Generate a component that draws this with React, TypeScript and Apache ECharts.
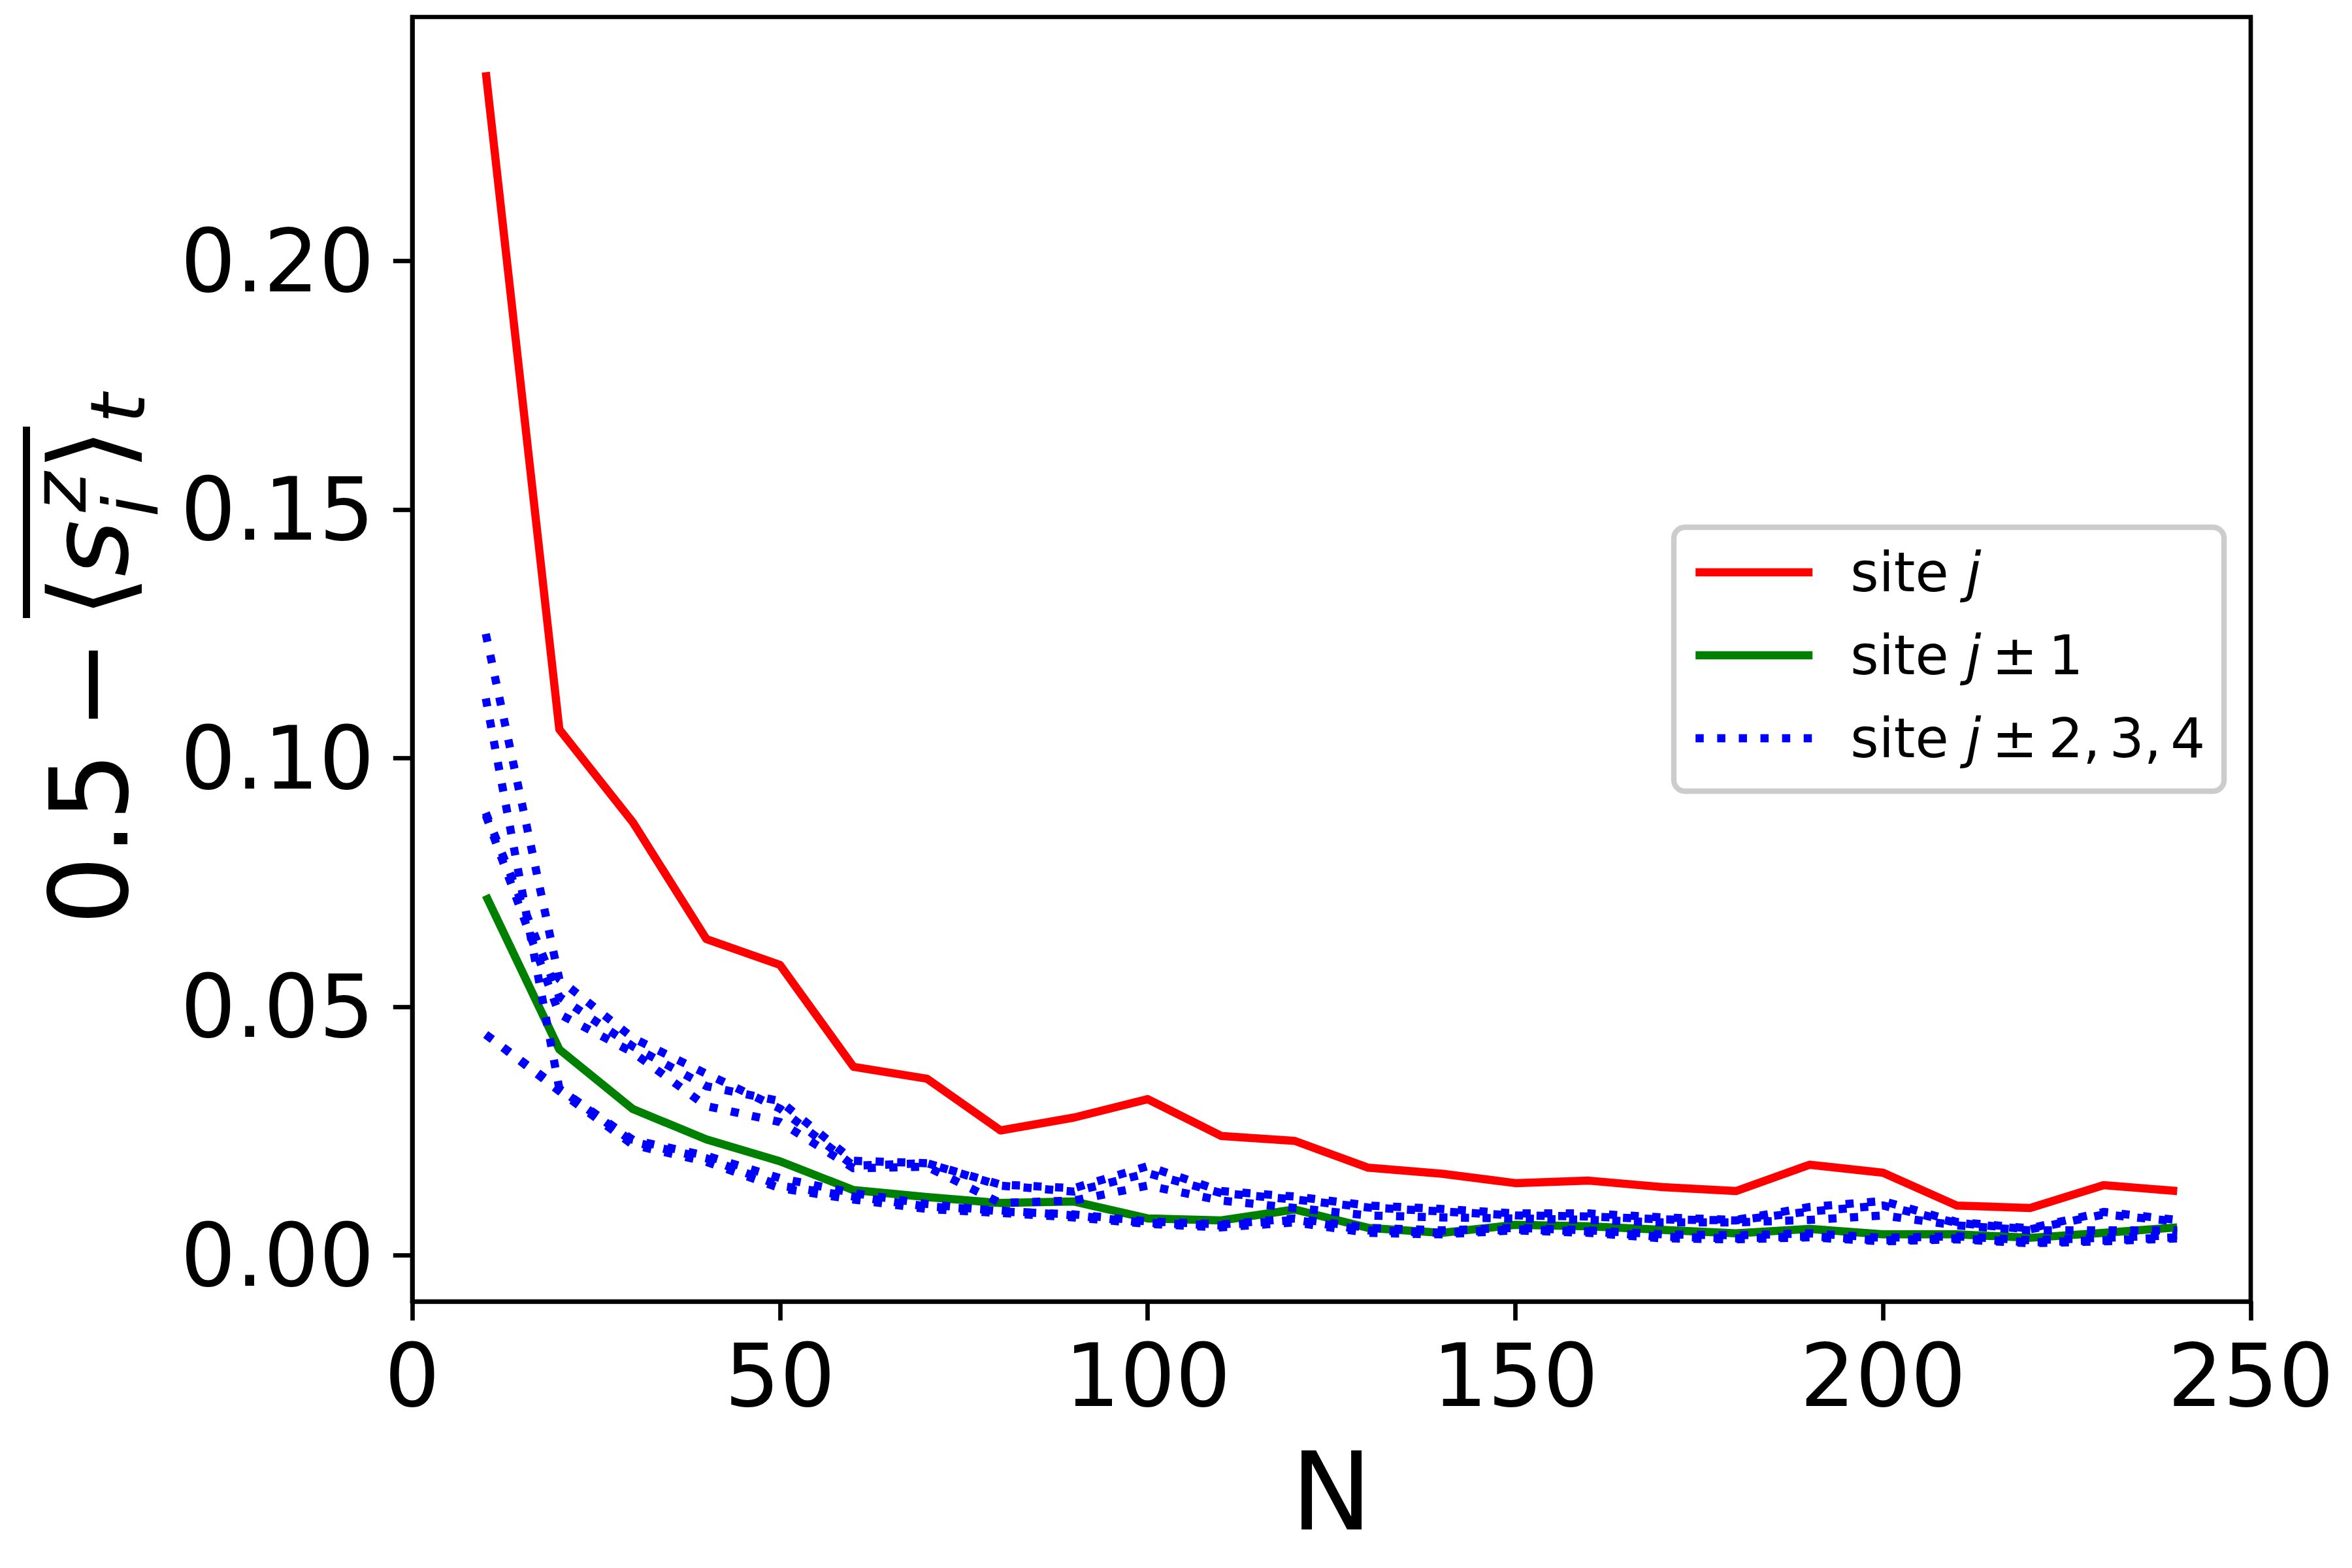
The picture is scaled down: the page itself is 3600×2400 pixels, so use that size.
import React, { useEffect, useRef } from "react";
import * as echarts from "echarts";

// ---------------- data ----------------
const N_VALUES = [10, 20, 30, 40, 50, 60, 70, 80, 90, 100, 110, 120, 130, 140, 150, 160, 170, 180, 190, 200, 210, 220, 230, 240];

const SITE_J = [0.238, 0.1058, 0.0871, 0.0636, 0.0584, 0.0379, 0.0355, 0.0251, 0.0277, 0.0314, 0.024, 0.023, 0.0176, 0.0164, 0.0145, 0.015, 0.0137, 0.0129, 0.0182, 0.0166, 0.01, 0.0095, 0.0141, 0.0129];

const SITE_J_PM1 = [0.0724, 0.0414, 0.0294, 0.0233, 0.0189, 0.0131, 0.0117, 0.0105, 0.0108, 0.0074, 0.007, 0.0092, 0.0055, 0.0045, 0.0061, 0.0058, 0.0051, 0.0044, 0.0053, 0.0042, 0.0042, 0.0035, 0.0045, 0.0056];

const SITE_J_PM2_A = [0.125, 0.0555, 0.0437, 0.0365, 0.0295, 0.018, 0.0185, 0.0142, 0.0135, 0.0179, 0.0129, 0.0118, 0.01, 0.0093, 0.0084, 0.0084, 0.0076, 0.0071, 0.0097, 0.0109, 0.0067, 0.0054, 0.0087, 0.0071];
const SITE_J_PM2_B = [0.112, 0.0335, 0.0228, 0.0195, 0.014, 0.0118, 0.0098, 0.009, 0.008, 0.0065, 0.006, 0.0071, 0.005, 0.0045, 0.0052, 0.0048, 0.0037, 0.0034, 0.0038, 0.003, 0.0034, 0.0026, 0.003, 0.0036];
const SITE_J_PM3_A = [0.0885, 0.0485, 0.0408, 0.03, 0.0268, 0.0175, 0.0178, 0.0105, 0.011, 0.014, 0.011, 0.0095, 0.008, 0.0076, 0.0074, 0.0071, 0.0066, 0.0066, 0.0071, 0.008, 0.006, 0.005, 0.005, 0.005];
const SITE_J_PM3_B = [0.089, 0.052, 0.042, 0.034, 0.031, 0.019, 0.0185, 0.014, 0.0128, 0.0165, 0.0125, 0.0112, 0.0096, 0.0088, 0.008, 0.0078, 0.0072, 0.007, 0.0088, 0.01, 0.0065, 0.0052, 0.0082, 0.0068];
const SITE_J_PM4_A = [0.0444, 0.033, 0.0222, 0.0188, 0.0135, 0.0112, 0.0093, 0.0085, 0.0076, 0.0063, 0.0056, 0.0066, 0.0045, 0.0042, 0.005, 0.0045, 0.0034, 0.0032, 0.0036, 0.0028, 0.0032, 0.0024, 0.0028, 0.0034];
const SITE_J_PM4_B = [0.0444, 0.0335, 0.0232, 0.02, 0.0155, 0.0125, 0.0103, 0.0088, 0.0082, 0.0068, 0.0062, 0.0074, 0.0055, 0.005, 0.0055, 0.005, 0.0042, 0.004, 0.0044, 0.0035, 0.0038, 0.003, 0.0035, 0.004];

const BLUE_SERIES = [SITE_J_PM2_A, SITE_J_PM2_B, SITE_J_PM3_A, SITE_J_PM3_B, SITE_J_PM4_A, SITE_J_PM4_B];

const Y_TICKS = [0, 0.05, 0.1, 0.15, 0.2];
const X_MIN = 0;
const X_MAX = 250;
const X_INTERVAL = 50;
const Y_MIN = -0.0093;
const Y_MAX = 0.2491;

const LEGEND_NAMES = ["site j", "site j±1", "site j±2,3,4"];

// ---------------- styles ----------------
const FONT = "'DejaVu Sans', sans-serif";
const LW = 12.5;
const DOT: number[] = [12.5, 20.6];

const pairs = (ys: number[]) => N_VALUES.map((n, i) => [n, ys[i]]);

function legendFormatter(name: string): string {
  if (name === LEGEND_NAMES[0]) return "site {it|j}";
  if (name === LEGEND_NAMES[1]) return "site {it|j}\u2009±\u20091";
  return "site {it|j}\u2009±\u20092,\u20063,\u20064";
}

export default function App() {
  const ref = useRef<HTMLDivElement>(null);

  useEffect(() => {
    document.body.style.margin = "0";
    const el = ref.current!;
    const chart = echarts.init(el, null, { renderer: "svg", width: 3600, height: 2400 });

    const lineSeries = (name: string, ys: number[], color: string, type: any) => ({
      name,
      type: "line",
      data: pairs(ys),
      symbol: "none",
      showSymbol: false,
      silent: true,
      clip: true,
      emphasis: { disabled: true },
      lineStyle: { color, width: LW, type, cap: "butt", join: "round" },
      itemStyle: { color },
    });

    const series: any[] = [
      lineSeries(LEGEND_NAMES[0], SITE_J, "#ff0000", "solid"),
      lineSeries(LEGEND_NAMES[1], SITE_J_PM1, "#008000", "solid"),
      ...BLUE_SERIES.map((ys, k) =>
        lineSeries(k === 0 ? LEGEND_NAMES[2] : `blue-${k}`, ys, "#0000ff", DOT)
      ),
    ];

    const mainFs = 166.7;
    const subFs = 116.7;
    const c = 0.346; // central-baseline offset of DejaVu Sans
    const txt = (text: string, x: number, baseline: number, fs: number, italic: boolean, align: string) => ({
      type: "text",
      x,
      y: baseline - c * fs,
      silent: true,
      style: {
        text,
        fontSize: fs,
        fontFamily: FONT,
        fontStyle: italic ? "italic" : "normal",
        fill: "#000",
        align,
        textAlign: align,
        verticalAlign: "middle",
        textVerticalAlign: "middle",
      },
    });

    const yLabel = {
      type: "group",
      x: 195,
      y: 1405,
      rotation: Math.PI / 2,
      silent: true,
      children: [
        txt("0.5", -11, 0, mainFs, false, "left"),
        txt("\u2212", 357, 0, mainFs, false, "center"),
        txt("\u27E8", 492, 0, mainFs, false, "center"),
        txt("s", 566, 0, mainFs, true, "center"),
        txt("z", 652, -64, subFs, true, "center"),
        txt("i", 630, 46, subFs, true, "center"),
        txt("\u27E9", 717, 0, mainFs, false, "center"),
        txt("t", 780, 26, subFs, true, "center"),
        {
          type: "line",
          silent: true,
          shape: { x1: 459, y1: -154.5, x2: 752, y2: -154.5 },
          style: { stroke: "#000", lineWidth: 11 },
        },
      ],
    };

    const option: any = {
      animation: false,
      backgroundColor: "#ffffff",
      textStyle: { fontFamily: FONT },
      grid: {
        left: 631,
        top: 26,
        right: 3600 - 3445,
        bottom: 2400 - 1992,
        show: true,
        borderColor: "#000",
        borderWidth: 6.7,
        backgroundColor: "transparent",
        containLabel: false,
      },
      xAxis: {
        type: "value",
        min: X_MIN,
        max: X_MAX,
        interval: X_INTERVAL,
        name: "N",
        nameLocation: "middle",
        nameGap: 207,
        nameTextStyle: { fontSize: mainFs, color: "#000", fontFamily: FONT },
        axisLine: { show: true, onZero: false, lineStyle: { color: "#000", width: 6.7 } },
        axisTick: { show: true, inside: false, length: 29.2, lineStyle: { color: "#000", width: 6.7 } },
        axisLabel: {
          show: true,
          fontSize: 133.3,
          fontFamily: FONT,
          color: "#000",
          margin: 47,
          showMinLabel: true,
          showMaxLabel: true,
          formatter: (v: number) => String(v),
        },
        splitLine: { show: false },
      },
      yAxis: {
        type: "value",
        min: Y_MIN,
        max: Y_MAX,
        axisLine: { show: true, onZero: false, lineStyle: { color: "#000", width: 6.7 } },
        axisTick: {
          show: true,
          inside: false,
          length: 29.2,
          customValues: Y_TICKS,
          lineStyle: { color: "#000", width: 6.7 },
        },
        axisLabel: {
          show: true,
          customValues: Y_TICKS,
          fontSize: 133.3,
          fontFamily: FONT,
          color: "#000",
          margin: 58,
          formatter: (v: number) => v.toFixed(2),
        },
        splitLine: { show: false },
      },
      legend: {
        show: true,
        orient: "vertical",
        left: 2562,
        top: 807,
        data: LEGEND_NAMES,
        selectedMode: false,
        itemWidth: 179,
        itemHeight: 14,
        itemGap: 27,
        padding: [19, 29, 31, 27],
        backgroundColor: "rgba(255,255,255,0.8)",
        borderColor: "#cccccc",
        borderWidth: 8.3,
        borderRadius: 17,
        lineStyle: { width: LW },
        itemStyle: { opacity: 0, borderWidth: 0 },
        formatter: legendFormatter,
        textStyle: {
          fontSize: 83.3,
          fontFamily: FONT,
          color: "#000",
          lineHeight: 100,
          padding: [0, 0, 0, 53],
          rich: {
            it: { fontSize: 83.3, fontFamily: FONT, fontStyle: "italic", color: "#000", lineHeight: 100 },
          },
        },
      },
      graphic: [yLabel],
      series,
    };

    chart.setOption(option);
    return () => chart.dispose();
  }, []);

  return (
    <div
      ref={ref}
      style={{ position: "absolute", left: 0, top: 0, width: 3600, height: 2400, background: "#fff" }}
    />
  );
}
